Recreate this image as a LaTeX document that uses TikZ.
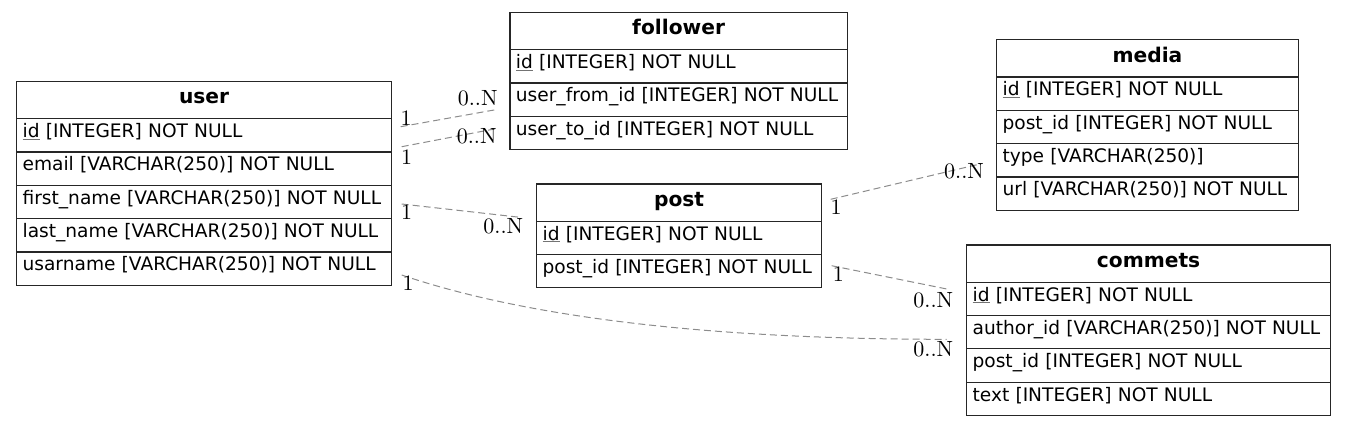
\documentclass[tikz,border=0pt]{standalone}
\usepackage{fontspec}
\newfontfamily\dejavu{DejaVu Sans}
\newfontfamily\lmten{lmroman10-regular.otf}
\usetikzlibrary{calc}
\newlength\pkw
\newcommand{\pkey}[1]{\settowidth{\pkw}{#1}\rlap{\textcolor{black!55}{\rule[-2.2pt]{\pkw}{1.1pt}}}#1}
\tikzset{
 tbl/.style={draw=black!85, line width=1.2pt, anchor=north west, inner xsep=6pt, inner ysep=0pt, align=left, font=\dejavu\fontsize{18.6}{22}\selectfont},
 tabtitle/.style={tbl, align=center, minimum height=37.3pt, text height=14pt, text depth=6pt, font=\dejavu\bfseries\fontsize{20.2}{24}\selectfont},
 tabrow/.style={tbl, minimum height=33.33pt, text height=13pt, text depth=8.4pt},
 rel/.style={draw=black!45, line width=1pt, dash pattern=on 7pt off 4pt},
 card/.style={inner sep=0pt, font=\lmten\fontsize{22}{24}\selectfont},
}
\begin{document}
\begin{tikzpicture}[x=1pt,y=-1pt]
\useasboundingbox (0,0) rectangle (1345,426);
% user
\node[tabtitle, text width=363pt] (user) at (16,80.7) {user};
\node[tabrow, text width=363pt] (user-1) at (16,118) {\pkey{id} [INTEGER] NOT NULL};
\node[tabrow, text width=363pt] (user-2) at (16,151.33) {email [VARCHAR(250)] NOT NULL};
\node[tabrow, text width=363pt] (user-3) at (16,184.67) {first\_name [VARCHAR(250)] NOT NULL};
\node[tabrow, text width=363pt] (user-4) at (16,218) {last\_name [VARCHAR(250)] NOT NULL};
\node[tabrow, text width=363pt] (user-5) at (16,251.33) {usarname [VARCHAR(250)] NOT NULL};
% follower
\node[tabtitle, text width=325.4pt] (follower) at (509.3,11.7) {follower};
\node[tabrow, text width=325.4pt] (follower-1) at (509.3,49) {\pkey{id} [INTEGER] NOT NULL};
\node[tabrow, text width=325.4pt] (follower-2) at (509.3,82.33) {user\_from\_id [INTEGER] NOT NULL};
\node[tabrow, text width=325.4pt] (follower-3) at (509.3,115.67) {user\_to\_id [INTEGER] NOT NULL};
% post
\node[tabtitle, text width=273pt] (post) at (536,183.3) {post};
\node[tabrow, text width=273pt] (post-1) at (536,220.6) {\pkey{id} [INTEGER] NOT NULL};
\node[tabrow, text width=273pt] (post-2) at (536,253.93) {post\_id [INTEGER] NOT NULL};
% media
\node[tabtitle, text width=289.7pt] (media) at (996,39) {media};
\node[tabrow, text width=289.7pt] (media-1) at (996,76.3) {\pkey{id} [INTEGER] NOT NULL};
\node[tabrow, text width=289.7pt] (media-2) at (996,109.63) {post\_id [INTEGER] NOT NULL};
\node[tabrow, text width=289.7pt] (media-3) at (996,142.97) {type [VARCHAR(250)]};
\node[tabrow, text width=289.7pt] (media-4) at (996,176.3) {url [VARCHAR(250)] NOT NULL};
% commets
\node[tabtitle, text width=352pt] (commets) at (966,244.3) {commets};
\node[tabrow, text width=352pt] (commets-1) at (966,281.6) {\pkey{id} [INTEGER] NOT NULL};
\node[tabrow, text width=352pt] (commets-2) at (966,314.93) {author\_id [VARCHAR(250)] NOT NULL};
\node[tabrow, text width=352pt] (commets-3) at (966,348.27) {post\_id [INTEGER] NOT NULL};
\node[tabrow, text width=352pt] (commets-4) at (966,381.6) {text [INTEGER] NOT NULL};
% connector end points
\coordinate (e1s) at (400.7,126.7); \coordinate (e1t) at (498,109.3);
\coordinate (e2s) at (401.7,146.7); \coordinate (e2t) at (498,128.3);
\coordinate (e3s) at (401.7,204);   \coordinate (e3t) at (520,217.3);
\coordinate (e4s) at (830.7,199.3); \coordinate (e4t) at (980,164);
\coordinate (e5s) at (831.7,265.7); \coordinate (e5t) at (948.3,289.3);
\coordinate (e6s) at (401.7,275);   \coordinate (e6t) at (946.7,339.3);
\draw[rel] (e1s) -- (e1t);
\draw[rel] (e2s) -- (e2t);
\draw[rel] (e3s) -- (e3t);
\draw[rel] (e4s) -- (e4t);
\draw[rel] (e5s) -- (e5t);
\draw[rel] (e6s) .. controls (490,305) and (650,339.3) .. (e6t);
% cardinalities
\node[card] (c1a) at (406,118) {1};
\node[card] (c1b) at (477.7,98.3) {0..N};
\node[card] (c2a) at (406.7,156.7) {1};
\node[card] (c2b) at (476.7,136) {0..N};
\node[card] (c3a) at (406.7,212.3) {1};
\node[card] (c3b) at (503.3,226.7) {0..N};
\node[card] (c4a) at (836,207.3) {1};
\node[card] (c4b) at (964,171.7) {0..N};
\node[card] (c5a) at (838.3,274.3) {1};
\node[card] (c5b) at (933.3,300) {0..N};
\node[card] (c6a) at (408,283.6) {1};
\node[card] (c6b) at (933.3,349) {0..N};
\end{tikzpicture}
\end{document}
